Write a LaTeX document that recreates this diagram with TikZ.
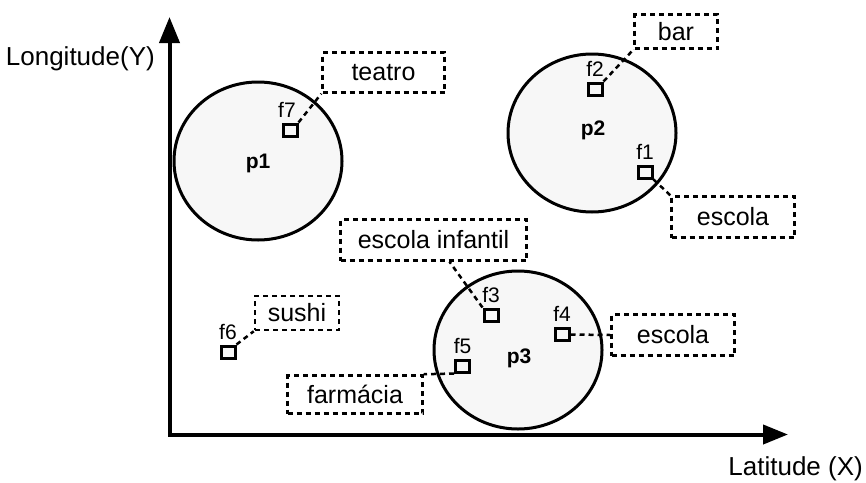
\documentclass[tikz,border=0pt]{standalone}
\usepackage{fontspec}
\setmainfont{Liberation Sans}
\usetikzlibrary{arrows.meta,shapes.geometric}
\definecolor{regionfill}{HTML}{F7F7F7}
\begin{document}
\begin{tikzpicture}[x=1pt,y=-1pt,
  region/.style={ellipse, draw, line width=3pt, fill=regionfill,
    minimum width=168pt, minimum height=158pt, inner sep=0pt},
  regionlabel/.style={font=\fontsize{21}{25}\selectfont\bfseries, inner sep=0pt},
  poi/.style={rectangle, draw, line width=3pt, fill=regionfill,
    minimum width=14pt, minimum height=12pt, inner sep=0pt},
  poilabel/.style={font=\fontsize{21}{25}\selectfont, inner sep=0pt, anchor=south},
  tag/.style={rectangle, draw, line width=2.5pt, dash pattern=on 5pt off 4pt,
    fill=white, inner sep=0pt, font=\fontsize{25}{30}\selectfont},
  link/.style={line width=2.5pt, dash pattern=on 5pt off 4pt},
  axis/.style={line width=4pt, line join=miter},
  axislabel/.style={font=\fontsize{26}{30}\selectfont, inner sep=0pt}
]
\useasboundingbox (0,0) rectangle (866,482);

% axes
\coordinate (O) at (169.5,434.5);
\coordinate (ytip) at (169.5,17);
\coordinate (xtip) at (788,434.5);
\draw[axis, {Triangle[length=26pt,width=20pt]}-{Triangle[length=25pt,width=19pt]}]
  (ytip) -- (O) -- (xtip);
\node[axislabel, anchor=base east] (ylab) at (155,65) {Longitude(Y)};
\node[axislabel, anchor=base east] (xlab) at (863,475) {Latitude (X)};

% regions with their names
\node[region] (p1) at (258,161) {};
\node[region] (p2) at (592,133) {};
\node[region] (p3) at (518,350) {};
\node[regionlabel] (p1name) at ([yshift=-2pt]p1.center) {p1};
\node[regionlabel] (p2name) at ([xshift=1pt,yshift=3pt]p2.center) {p2};
\node[regionlabel] (p3name) at ([xshift=1pt,yshift=-8pt]p3.center) {p3};

% category tags
\node[tag, minimum width=122pt, minimum height=40pt] (teatro) at (383.5,72.5) {teatro};
\node[tag, minimum width=83pt, minimum height=34pt] (bar) at (676,31.5) {bar};
\node[tag, minimum width=123pt, minimum height=41pt] (escolaA) at (733,217) {escola};
\node[tag, minimum width=186pt, minimum height=41pt] (infantil) at (433.5,240) {escola infantil};
\node[tag, minimum width=84pt, minimum height=34pt] (sushi) at (297,313) {sushi};
\node[tag, minimum width=123pt, minimum height=41pt] (escolaB) at (673,335) {escola};
\node[tag, minimum width=135pt, minimum height=38pt] (farmacia) at (355,394.5) {farmácia};

% points of interest
\node[poi] (f7) at (290,130) {};
\node[poi] (f2) at (595,89) {};
\node[poi] (f1) at (645,172) {};
\node[poi] (f3) at (491,315) {};
\node[poi] (f4) at (562,334.5) {};
\node[poi] (f5) at (462.5,366) {};
\node[poi] (f6) at (228,352) {};
\foreach \p in {f1,f2,f3,f4,f5,f6}
  \node[poilabel] (\p name) at ([yshift=5pt]\p.north) {\p};
\node[poilabel] (f7name) at ([xshift=-3pt,yshift=5pt]f7.north) {f7};

% links from points to tags
\draw[link] (f7.north east) -- (teatro.south west);
\draw[link] (f2.north east) -- (bar.south west);
\draw[link] (f1.south east) -- (escolaA.north west);
\draw[link] (f3.north west) -- ([xshift=16pt]infantil.south);
\draw[link] (f4.east) -- (escolaB.west);
\draw[link] (f5.south west) -- (farmacia.north east);
\draw[link] (f6.north east) -- (sushi.south west);
\end{tikzpicture}
\end{document}
